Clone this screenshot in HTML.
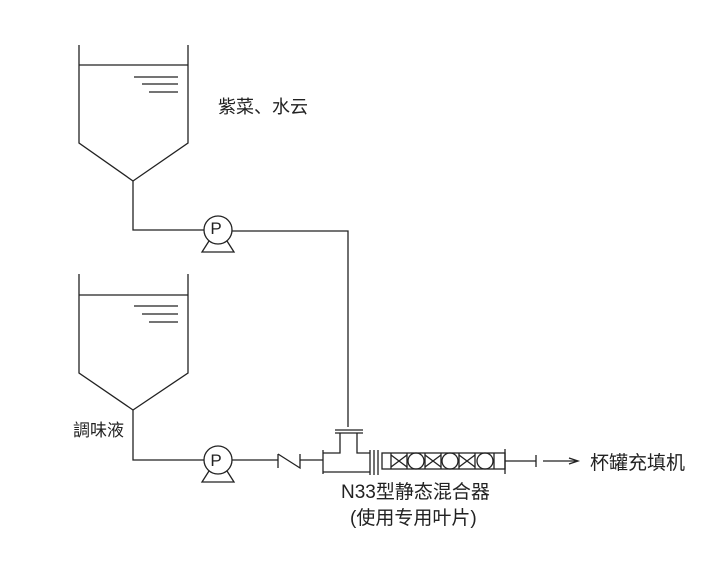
<!DOCTYPE html>
<html><head><meta charset="utf-8"><style>
html,body{margin:0;padding:0;background:#fff;}
svg{display:block}
text{font-family:"Liberation Sans","Noto Sans CJK SC",sans-serif;fill:#222;}
</style></head><body>
<svg width="719" height="582" viewBox="0 0 719 582" xmlns="http://www.w3.org/2000/svg">
<g stroke="#222" stroke-width="1.3" fill="none">
<polyline points="79,45 79,143 133,181 188,143 188,45"/>
<line x1="79" y1="65" x2="188" y2="65"/>
<line x1="134" y1="77" x2="178" y2="77"/>
<line x1="142" y1="84" x2="178" y2="84"/>
<line x1="149" y1="92" x2="178" y2="92"/>
<polyline points="133,181 133,230 204,230"/>
<circle cx="218" cy="230" r="14"/>
<polyline points="232,231 348,231 348,427"/>
<path d="M209,241 L202,252 L234,252 L227,241"/>
<polyline points="79,274 79,373 133,410 188,373 188,274"/>
<line x1="79" y1="295" x2="188" y2="295"/>
<line x1="134" y1="306" x2="178" y2="306"/>
<line x1="142" y1="314" x2="178" y2="314"/>
<line x1="149" y1="322" x2="178" y2="322"/>
<polyline points="133,410 133,460 204,460"/>
<circle cx="218" cy="460" r="14"/>
<path d="M209,471 L202,482 L234,482 L227,471"/>
<line x1="232" y1="460" x2="278" y2="460"/>
<line x1="278" y1="454" x2="278" y2="468"/>
<polyline points="278,454 300,468 300,454"/>
<line x1="300" y1="460" x2="323" y2="460"/>
<line x1="323" y1="450" x2="323" y2="474"/>
<polyline points="323,453 340,453 340,433"/>
<polyline points="357,433 357,453 370,453"/>
<line x1="323" y1="472" x2="370" y2="472"/>
<line x1="335" y1="430" x2="363" y2="430"/>
<line x1="335" y1="433" x2="363" y2="433"/>
<line x1="370" y1="450" x2="370" y2="475"/>
<line x1="374" y1="450" x2="374" y2="475"/>
<line x1="378" y1="450" x2="378" y2="475"/>
<rect x="382" y="453" width="123" height="16"/>
<line x1="505" y1="449" x2="505" y2="474"/>
<path d="M391,453 V469 M391,455 L407,467 M407,455 L391,467 M407,453 V469"/>
<circle cx="416" cy="461" r="8"/>
<path d="M425,453 V469 M425,455 L441,467 M441,455 L425,467 M441,453 V469"/>
<circle cx="450" cy="461" r="8"/>
<path d="M459,453 V469 M459,455 L475,467 M475,455 L459,467 M475,453 V469"/>
<circle cx="485" cy="461" r="8"/>
<line x1="494" y1="453" x2="494" y2="469"/>
<line x1="505" y1="461" x2="536" y2="461"/>
<line x1="536" y1="455" x2="536" y2="467"/>
<line x1="543" y1="461" x2="576" y2="461"/>
<polyline points="569,458 578,461 569,464"/>
</g>
<text x="216" y="234" font-size="17" text-anchor="middle">P</text>
<text x="216" y="466" font-size="17" text-anchor="middle">P</text>
<text x="218" y="113" font-size="18">紫菜、水云</text>
<text x="73" y="436" font-size="17">調味液</text>
<text x="341" y="498" font-size="19">N33型静态混合器</text>
<text x="350" y="524" font-size="19">(使用专用叶片)</text>
<text x="590" y="469" font-size="19">杯罐充填机</text>
</svg>
</body></html>
